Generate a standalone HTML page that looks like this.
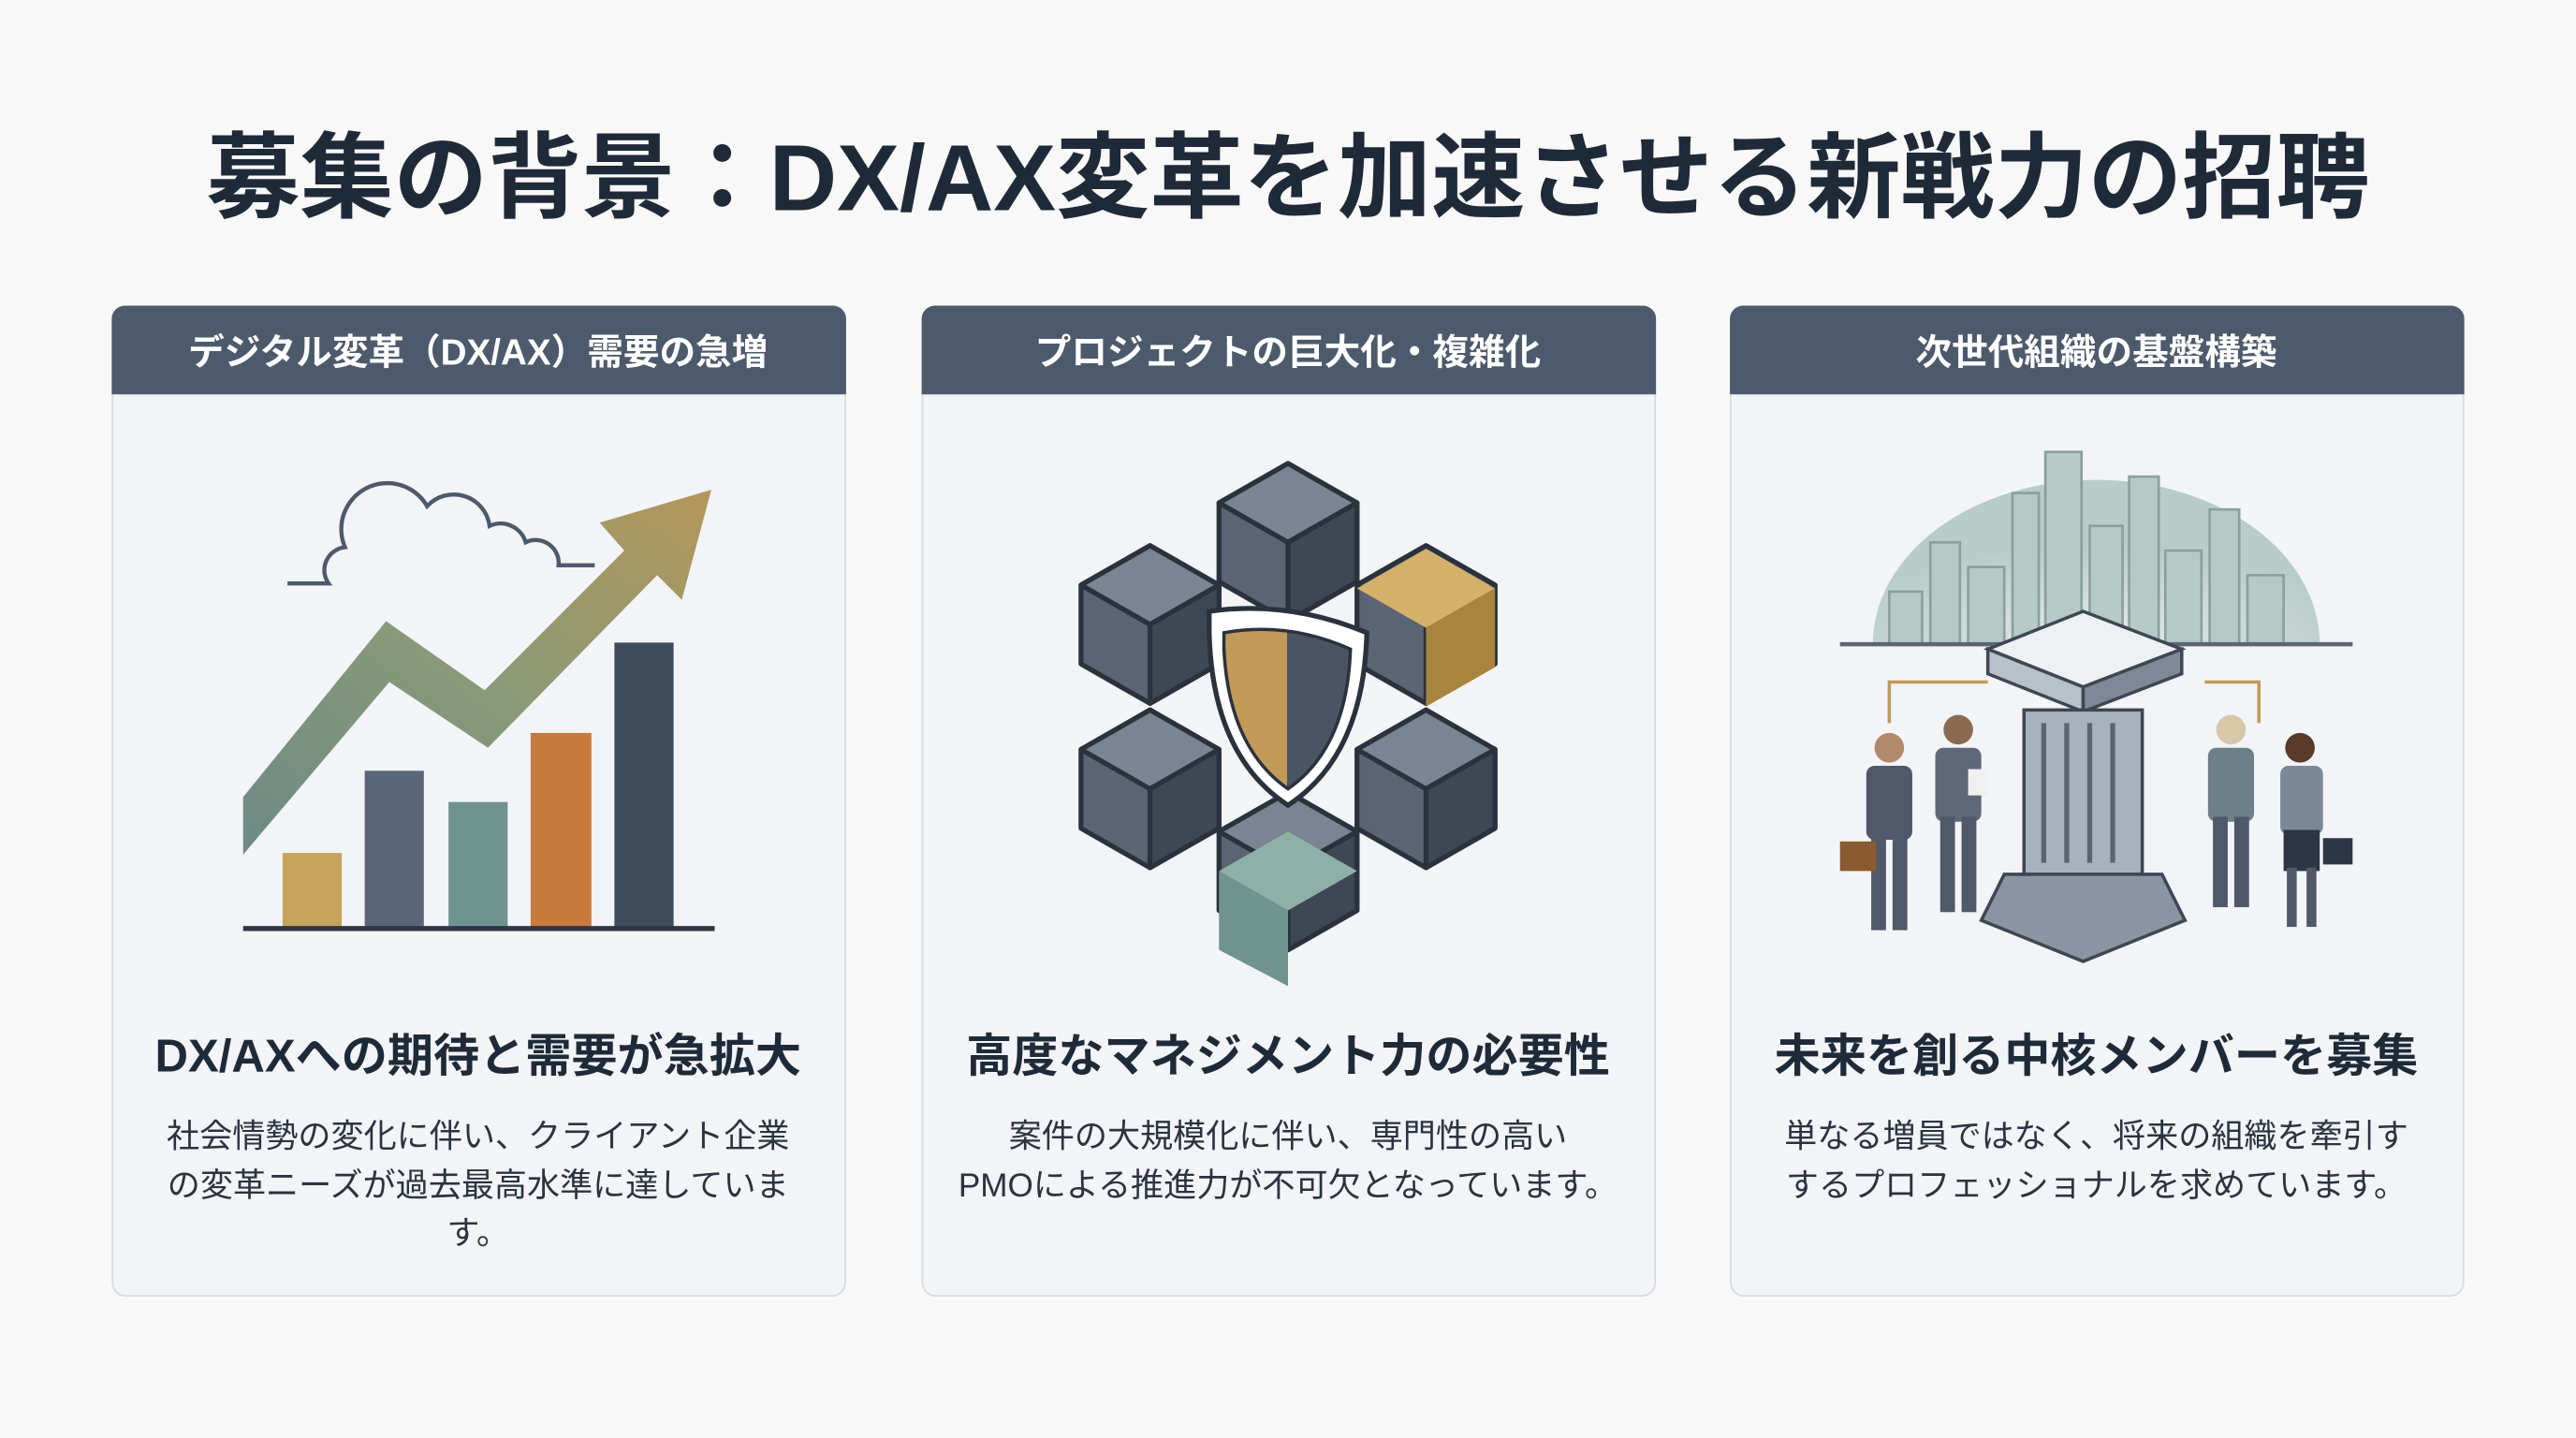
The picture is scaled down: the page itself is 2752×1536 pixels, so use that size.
<!DOCTYPE html>
<html><head><meta charset="utf-8"><style>
html,body{margin:0;padding:0;background:#f7f8f7;}
svg{display:block;}
text{font-family:"Liberation Sans","Noto Sans CJK JP",sans-serif;}
</style></head><body>
<svg width="2752" height="1536" viewBox="0 0 1568 875" preserveAspectRatio="none" xmlns="http://www.w3.org/2000/svg">
<defs>
<linearGradient id="arr" x1="0" x2="1" y1="1" y2="0">
<stop offset="0" stop-color="#6e8a86"/><stop offset="0.5" stop-color="#8a9a78"/><stop offset="1" stop-color="#b5975a"/></linearGradient>
<linearGradient id="sh" x1="0" x2="1"><stop offset="0.5" stop-color="#c29a58"/><stop offset="0.5" stop-color="#4a5462"/></linearGradient>
<radialGradient id="sky" cx="0.5" cy="1" r="0.6"><stop offset="0" stop-color="#e4ece9"/><stop offset="1" stop-color="#b8ccc8"/></radialGradient>
<g id="cube">
<path d="M0 -48 L42 -24 L42 24 L0 48 L-42 24 L-42 -24 Z" fill="#5a6472"/>
<path d="M0 -48 L42 -24 L0 0 L-42 -24 Z" fill="#7a8492"/>
<path d="M0 0 L42 -24 L42 24 L0 48 Z" fill="#3e4753"/>
</g>
</defs>
<rect width="1568" height="875" fill="#f7f8f7"/>
<text x="784" y="128" text-anchor="middle" font-size="57" font-weight="bold" fill="#1f2a38" textLength="1317" lengthAdjust="spacingAndGlyphs">募集の背景：DX/AX変革を加速させる新戦力の招聘</text>

<g>
<rect x="68.5" y="186.5" width="446" height="602" rx="8" fill="#f2f4f7" stroke="#d6dbe1"/>
<path d="M68 240 V194 a8 8 0 0 1 8 -8 H507 a8 8 0 0 1 8 8 V240 Z" fill="#4d5a6c"/>
<text x="291" y="222" text-anchor="middle" font-size="22" font-weight="bold" fill="#fff">デジタル変革（DX/AX）需要の急増</text>
<text x="291" y="652" text-anchor="middle" font-size="28" font-weight="bold" fill="#1f2a38">DX/AXへの期待と需要が急拡大</text>
<text x="291" y="698" text-anchor="middle" font-size="20" fill="#2a3340">社会情勢の変化に伴い、クライアント企業</text>
<text x="291" y="728" text-anchor="middle" font-size="20" fill="#2a3340">の変革ニーズが過去最高水準に達していま</text>
<text x="291" y="757" text-anchor="middle" font-size="20" fill="#2a3340">す。</text>
</g>
<g>
<rect x="561.5" y="186.5" width="446" height="602" rx="8" fill="#f2f4f7" stroke="#d6dbe1"/>
<path d="M561 240 V194 a8 8 0 0 1 8 -8 H1000 a8 8 0 0 1 8 8 V240 Z" fill="#4d5a6c"/>
<text x="784" y="222" text-anchor="middle" font-size="22" font-weight="bold" fill="#fff">プロジェクトの巨大化・複雑化</text>
<text x="784" y="652" text-anchor="middle" font-size="28" font-weight="bold" fill="#1f2a38">高度なマネジメント力の必要性</text>
<text x="784" y="698" text-anchor="middle" font-size="20" fill="#2a3340">案件の大規模化に伴い、専門性の高い</text>
<text x="784" y="728" text-anchor="middle" font-size="20" fill="#2a3340">PMOによる推進力が不可欠となっています。</text>
</g>
<g>
<rect x="1053.5" y="186.5" width="446" height="602" rx="8" fill="#f2f4f7" stroke="#d6dbe1"/>
<path d="M1053 240 V194 a8 8 0 0 1 8 -8 H1492 a8 8 0 0 1 8 8 V240 Z" fill="#4d5a6c"/>
<text x="1276" y="222" text-anchor="middle" font-size="22" font-weight="bold" fill="#fff">次世代組織の基盤構築</text>
<text x="1276" y="652" text-anchor="middle" font-size="28" font-weight="bold" fill="#1f2a38">未来を創る中核メンバーを募集</text>
<text x="1276" y="698" text-anchor="middle" font-size="20" fill="#2a3340">単なる増員ではなく、将来の組織を牽引す</text>
<text x="1276" y="728" text-anchor="middle" font-size="20" fill="#2a3340">するプロフェッショナルを求めています。</text>
</g>

<path d="M175 355 H200 a14 14 0 0 1 10 -22 a28 28 0 0 1 50 -25 a22 22 0 0 1 38 12 a16 16 0 0 1 22 10 a14 14 0 0 1 20 14 H362" fill="none" stroke="#4d5a6c" stroke-width="2.5"/>
<rect x="172" y="519" width="36" height="46" fill="#c7a25c"/>
<rect x="222" y="469" width="36" height="96" fill="#5a6678"/>
<rect x="273" y="488" width="36" height="77" fill="#6f9490"/>
<rect x="323" y="446" width="37" height="119" fill="#c77a3c"/>
<rect x="374" y="391" width="36" height="174" fill="#3f4a5a"/>
<line x1="148" y1="565" x2="435" y2="565" stroke="#2c3644" stroke-width="3"/>
<path d="M148 485 L235 378 L295 420 L380 335 L365 318 L433 298 L415 365 L400 350 L297 455 L237 415 L148 520 Z" fill="url(#arr)"/>

<g stroke="#2a323d" stroke-width="3" stroke-linejoin="round">
<use href="#cube" x="784" y="330"/>
<use href="#cube" x="700" y="380"/>
<use href="#cube" x="868" y="380"/>
<use href="#cube" x="700" y="480"/>
<use href="#cube" x="868" y="480"/>
<use href="#cube" x="784" y="530"/>
</g>
<path d="M826 358 L868 334 L910 358 L868 382 Z" fill="#d4b06a"/>
<path d="M868 382 L910 358 L910 406 L868 430 Z" fill="#a8843e"/>
<path d="M742 530 L784 506 L826 530 L784 554 Z" fill="#8fb0a6"/>
<path d="M742 530 L742 578 L784 600 L784 554 Z" fill="#6f9490"/>
<path d="M736 372 Q784 365 832 385 Q830 460 784 490 Q738 460 736 385 Z" fill="#fff" stroke="#2a323d" stroke-width="3"/>
<path d="M745 385 Q784 378 822 395 Q820 455 784 480 Q748 455 745 395 Z" fill="url(#sh)" stroke="#2a323d" stroke-width="2"/>

<path d="M1140 392 A136 100 0 0 1 1412 392 Z" fill="url(#sky)"/>
<g fill="#b6c9c6" stroke="#8aa09c" stroke-width="1.5">
<rect x="1150" y="360" width="20" height="32"/><rect x="1175" y="330" width="18" height="62"/>
<rect x="1198" y="345" width="22" height="47"/><rect x="1225" y="300" width="16" height="92"/>
<rect x="1245" y="275" width="22" height="117"/><rect x="1272" y="320" width="20" height="72"/>
<rect x="1296" y="290" width="18" height="102"/><rect x="1318" y="335" width="22" height="57"/>
<rect x="1345" y="310" width="18" height="82"/><rect x="1368" y="350" width="22" height="42"/>
</g>
<line x1="1120" y1="392" x2="1432" y2="392" stroke="#5a6472" stroke-width="2.5"/>
<path d="M1150 440 V415 H1210 M1342 415 H1375 V440" fill="none" stroke="#c29a58" stroke-width="2"/>
<path d="M1210 395 L1268 372 L1328 395 L1268 418 Z" fill="#eef1f4" stroke="#3e4753" stroke-width="2"/>
<path d="M1210 395 V410 L1268 433 V418 Z" fill="#b8c0ca" stroke="#3e4753" stroke-width="2"/>
<path d="M1268 418 L1328 395 V410 L1268 433 Z" fill="#7e8896" stroke="#3e4753" stroke-width="2"/>
<rect x="1232" y="432" width="72" height="100" fill="#a8b2be" stroke="#3e4753" stroke-width="2"/>
<g stroke="#5a6472" stroke-width="3"><line x1="1244" y1="440" x2="1244" y2="525"/><line x1="1258" y1="440" x2="1258" y2="525"/><line x1="1272" y1="440" x2="1272" y2="525"/><line x1="1286" y1="440" x2="1286" y2="525"/></g>
<path d="M1220 532 H1316 L1330 560 L1268 585 L1206 560 Z" fill="#8a94a2" stroke="#3e4753" stroke-width="2"/>
<g fill="#4f5968">
<circle cx="1150" cy="455" r="9" fill="#b08a6a"/><rect x="1136" y="466" width="28" height="45" rx="5"/><rect x="1139" y="508" width="9" height="58"/><rect x="1152" y="508" width="9" height="58"/>
<rect x="1120" y="512" width="22" height="18" fill="#8a5a30"/>
<circle cx="1192" cy="444" r="9" fill="#8a6a50"/><rect x="1178" y="455" width="28" height="45" rx="5" fill="#5e6878"/><rect x="1181" y="497" width="9" height="58"/><rect x="1194" y="497" width="9" height="58"/>
<rect x="1198" y="468" width="12" height="16" fill="#f0f0f0"/>
<circle cx="1358" cy="444" r="9" fill="#d8c8a8"/><rect x="1344" y="455" width="28" height="45" rx="5" fill="#6f7f88"/><rect x="1347" y="497" width="9" height="55"/><rect x="1360" y="497" width="9" height="55"/>
<circle cx="1400" cy="455" r="9" fill="#5a3a2a"/><rect x="1388" y="466" width="26" height="42" rx="5" fill="#7a8898"/><rect x="1390" y="505" width="22" height="25" fill="#2c3644"/><rect x="1392" y="528" width="6" height="36"/><rect x="1404" y="528" width="6" height="36"/>
<rect x="1414" y="510" width="18" height="16" fill="#2c3644"/>
</g>
</svg>
</body></html>
